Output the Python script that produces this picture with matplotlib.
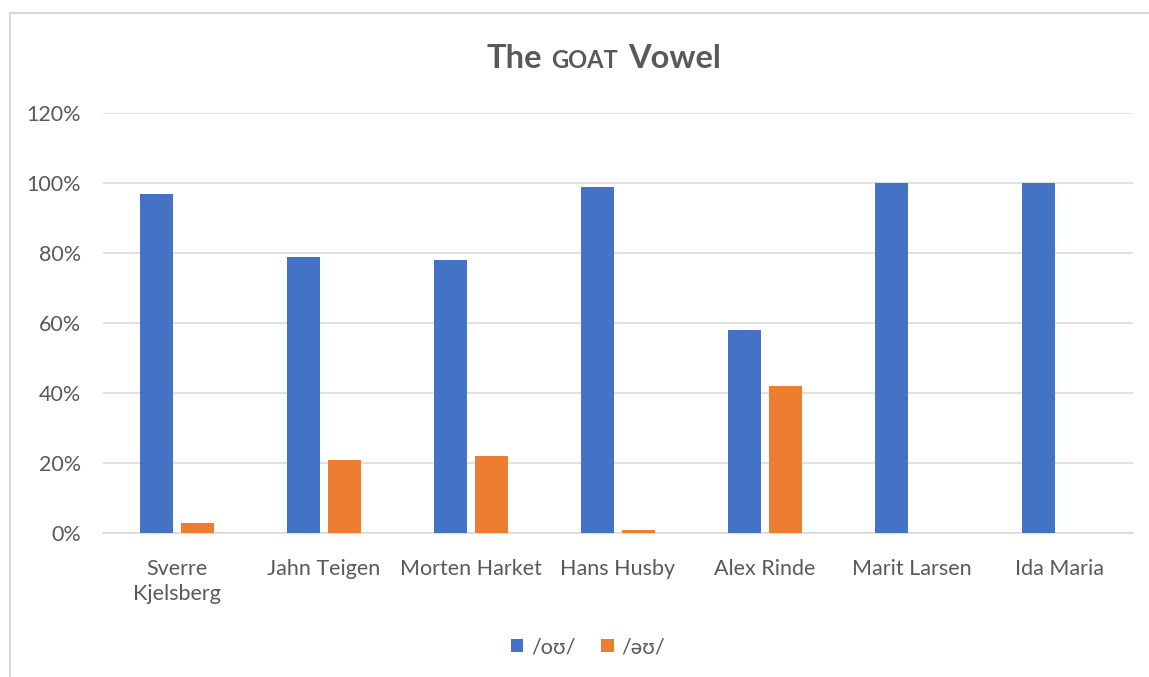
import matplotlib.pyplot as plt
import numpy as np
from matplotlib.offsetbox import TextArea, HPacker, AnchoredOffsetbox
from matplotlib.patches import Rectangle
from matplotlib.ticker import PercentFormatter

plt.rcParams['font.family'] = ['Lato', 'DejaVu Sans']

speakers = ['Sverre\nKjelsberg', 'Jahn Teigen', 'Morten Harket', 'Hans Husby',
            'Alex Rinde', 'Marit Larsen', 'Ida Maria']
ou_share = [0.97, 0.79, 0.78, 0.99, 0.58, 1.00, 1.00]
schwa_share = [0.03, 0.21, 0.22, 0.01, 0.42, 0.00, 0.00]
series_labels = ['/oʊ/', '/əʊ/']

BLUE = '#4472C4'
ORANGE = '#ED7D31'
TEXT = '#595959'
GRID = '#D9D9D9'

W, H = 1149, 677
fig = plt.figure(figsize=(W / 100, H / 100), dpi=100)
fig.patch.set_facecolor('white')

# chart area outline (left and top edges visible)
fig.add_artist(Rectangle((9.5 / W, -0.1), 1.2, (H - 13) / H + 0.1,
                         transform=fig.transFigure, fill=False,
                         edgecolor=GRID, linewidth=1.5))

ax = fig.add_axes([103 / W, (H - 533) / H, 1030 / W, 420 / H])

x = np.arange(len(speakers))
bw = 0.2245
off = 0.1395
ax.bar(x - off, ou_share, bw, color=BLUE, label=series_labels[0], zorder=3)
ax.bar(x + off, schwa_share, bw, color=ORANGE, label=series_labels[1], zorder=3)

ax.set_xlim(-0.5, len(speakers) - 0.5)
ax.set_ylim(0, 1.2)
ax.set_yticks(np.arange(0, 1.21, 0.2))
ax.yaxis.set_major_formatter(PercentFormatter(1.0, decimals=0))
ax.set_xticks(x)
ax.set_xticklabels(speakers, linespacing=1.3)

ax.grid(axis='y', color=GRID, linewidth=1.1, zorder=0)
for s in ['top', 'right', 'left']:
    ax.spines[s].set_visible(False)
ax.spines['bottom'].set_color(GRID)
ax.spines['bottom'].set_linewidth(1.1)
ax.tick_params(axis='both', length=0, labelsize=15.5, labelcolor=TEXT)
ax.tick_params(axis='y', pad=16)
ax.tick_params(axis='x', pad=19)

# title with small-caps GOAT
big = dict(size=23.5, weight='bold', color=TEXT)
small = dict(size=17, weight='bold', color=TEXT)
title = HPacker(children=[TextArea('The', textprops=big),
                          TextArea('GOAT', textprops=small),
                          TextArea('Vowel', textprops=big)],
                align='baseline', pad=0, sep=7)
fig.add_artist(AnchoredOffsetbox(loc='center', child=title, pad=0, borderpad=0,
                                 frameon=False,
                                 bbox_to_anchor=(603.5 / W, 1 - 58 / H),
                                 bbox_transform=fig.transFigure))

leg = ax.legend(loc='center', bbox_to_anchor=(588 / W, 1 - 647 / H),
                bbox_transform=fig.transFigure, ncol=2, frameon=False,
                fontsize=15.5, handlelength=0.6, handleheight=0.6,
                handletextpad=0.35, columnspacing=1.2)
for t in leg.get_texts():
    t.set_color(TEXT)

fig.savefig('out.png', dpi=100)
